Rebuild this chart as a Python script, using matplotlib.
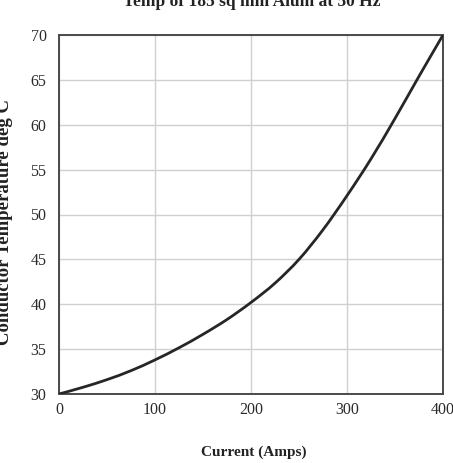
import matplotlib
matplotlib.use("Agg")
import matplotlib.pyplot as plt
from matplotlib.path import Path
from matplotlib.patches import PathPatch

current = [0, 25, 50, 75, 100, 125, 150, 175, 200, 225, 250, 275, 300, 325, 350, 375, 400]
temperature = [30.0, 30.75, 31.6, 32.6, 33.8, 35.15, 36.65, 38.3, 40.2, 42.35, 45.0, 48.3, 52.1, 56.2, 60.7, 65.4, 70.0]
x_ticks = [0, 100, 200, 300, 400]
y_ticks = [30, 35, 40, 45, 50, 55, 60, 65, 70]
title = "Temp of 185 sq mm Alum at 50 Hz"
x_label = "Current (Amps)"
y_label = "Conductor Temperature deg C"

plt.rcParams['font.family'] = ['Liberation Serif', 'DejaVu Serif']

W, H = 453, 463
fig = plt.figure(figsize=(W / 100, H / 100), dpi=100)
ax = fig.add_axes([59 / W, 69 / H, (443 - 59) / W, (394 - 35) / H])

# smooth line through the data points (Catmull-Rom as cubic Bezier segments)
pts = list(zip(current, temperature))
verts = [pts[0]]
codes = [Path.MOVETO]
n = len(pts)
for i in range(n - 1):
    p0 = pts[max(i - 1, 0)]
    p1 = pts[i]
    p2 = pts[i + 1]
    p3 = pts[min(i + 2, n - 1)]
    c1 = (p1[0] + (p2[0] - p0[0]) / 6, p1[1] + (p2[1] - p0[1]) / 6)
    c2 = (p2[0] - (p3[0] - p1[0]) / 6, p2[1] - (p3[1] - p1[1]) / 6)
    verts += [c1, c2, p2]
    codes += [Path.CURVE4] * 3
ax.add_patch(PathPatch(Path(verts, codes), facecolor='none', edgecolor='#262626',
                       lw=2.0, capstyle='round', zorder=3))

ax.set_xlim(0, 400)
ax.set_ylim(30, 70)
ax.set_xticks(x_ticks)
ax.set_yticks(y_ticks)
ax.grid(True, color='#d0d0d0', lw=1.0)
ax.set_axisbelow(True)
for s in ax.spines.values():
    s.set_color('#4a4a4a')
    s.set_linewidth(1.4)
ax.tick_params(axis='both', length=0, labelsize=11.5, colors='#2a2a2a')
ax.tick_params(axis='y', pad=9)
ax.tick_params(axis='x', pad=6)

fig.text(252 / W, 1 - 6 / H, title, ha='center', va='baseline',
         fontsize=12.5, fontweight='bold', color='#222222')
fig.text(254 / W, 1 - 456 / H, x_label, ha='center', va='baseline',
         fontsize=11, fontweight='bold', color='#222222')
fig.text(9 / W, 1 - 222 / H, y_label, ha='center', va='baseline', rotation=90,
         rotation_mode='anchor', fontsize=13.5, fontweight='bold', color='#222222')

fig.savefig('out.png', dpi=100)
